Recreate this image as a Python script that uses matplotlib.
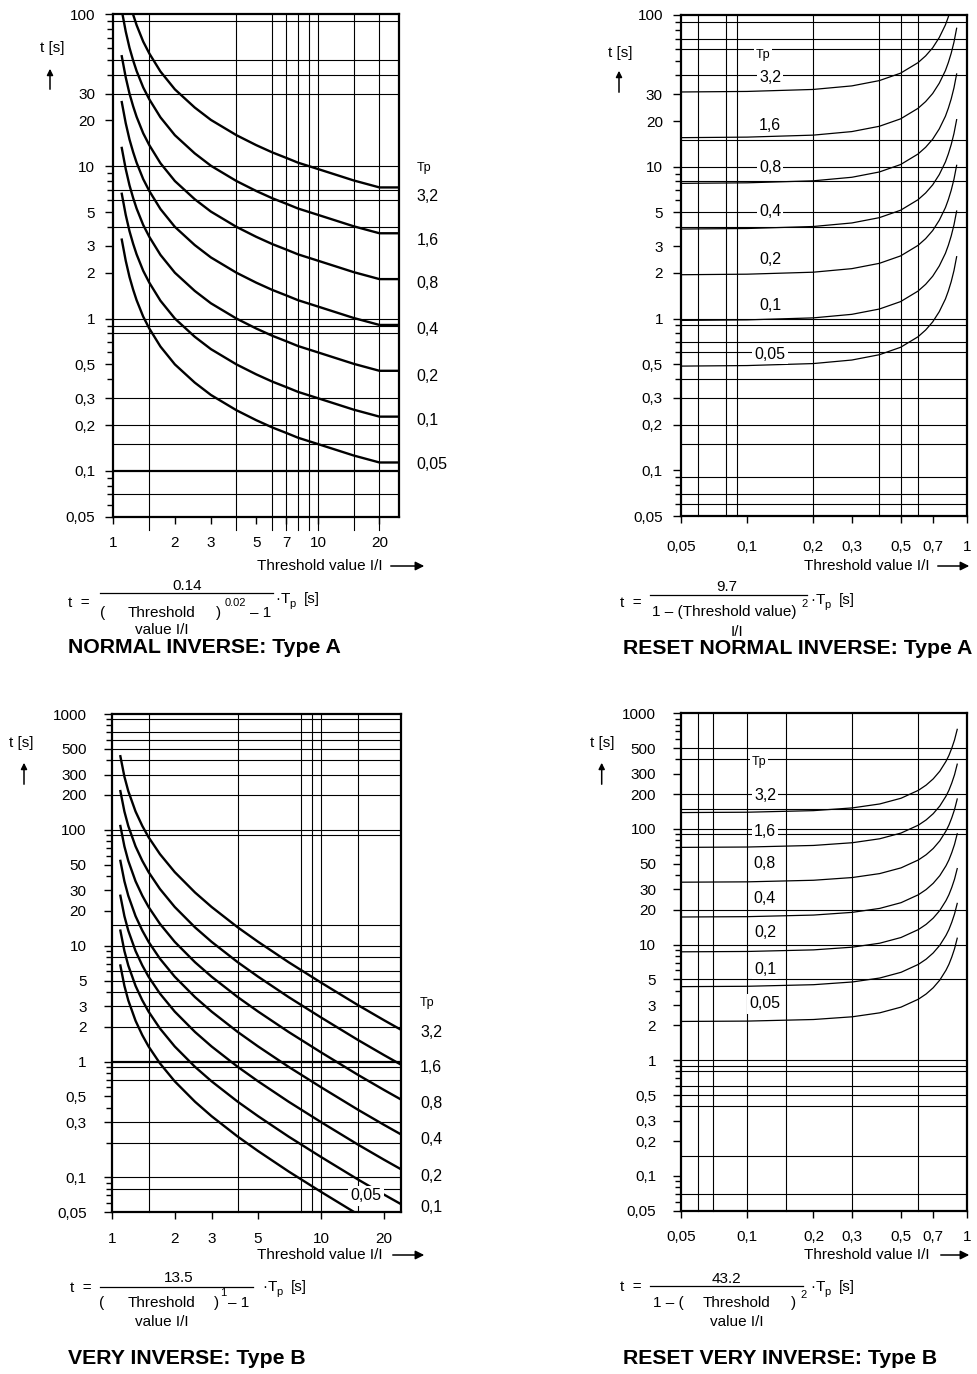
import numpy as np
import matplotlib
matplotlib.use("Agg")
import matplotlib.pyplot as plt
from matplotlib.lines import Line2D
from matplotlib.patches import FancyArrowPatch
from matplotlib.ticker import LogLocator, NullFormatter, NullLocator

plt.rcParams["font.family"] = ["Liberation Sans", "DejaVu Sans"]

W, H = 977, 1374

# time multiplier of each curve
tp_values = [3.2, 1.6, 0.8, 0.4, 0.2, 0.1, 0.05]

# NORMAL INVERSE, Type A: time for Tp = 1 s
ni_x = [1.1, 1.15, 1.2, 1.25, 1.3, 1.4, 1.5, 1.7, 2, 2.5, 3, 4, 5, 6, 7, 8, 10, 15, 20, 25]
ni_t = [66, 48, 37.5, 31, 26.4, 20.6, 17.2, 13.1, 10.0, 7.6, 6.3, 5.0, 4.3, 3.85, 3.55, 3.3,
        3.0, 2.52, 2.27, 2.27]

# VERY INVERSE, Type B
vi_x = [1.1, 1.15, 1.2, 1.3, 1.4, 1.5, 1.7, 2, 2.5, 3, 4, 5, 7, 10, 15, 20, 24]
vi_t = [135, 90, 67.5, 45, 33.8, 27, 19.3, 13.5, 9.0, 6.75, 4.5, 3.38, 2.25, 1.5, 0.96, 0.71, 0.59]

# RESET curves, Type A and Type B
rs_x = [0.05, 0.1, 0.2, 0.3, 0.4, 0.5, 0.6, 0.65, 0.7, 0.75, 0.8, 0.825, 0.85, 0.875, 0.9]
rn_t = [9.72, 9.8, 10.1, 10.66, 11.55, 12.93, 15.16, 16.8, 19.0, 22.2, 26.9, 30.4, 35.0, 41.4, 51.1]
rv_t = [43.3, 43.6, 45.0, 47.5, 51.4, 57.6, 67.5, 74.8, 84.7, 98.7, 120, 135, 156, 184, 227]

# tick labels
ticks_inv_a = [1, 2, 3, 5, 7, 10, 20]
ticks_inv_b = [1, 2, 3, 5, 10, 20]
ticks_reset = [0.05, 0.1, 0.2, 0.3, 0.5, 0.7, 1]
yt_100 = [0.05, 0.1, 0.2, 0.3, 0.5, 1, 2, 3, 5, 10, 20, 30, 100]
yt_1000_b = [0.05, 0.1, 0.3, 0.5, 1, 2, 3, 5, 10, 20, 30, 50, 100, 200, 300, 500, 1000]
yt_1000_r = [0.05, 0.1, 0.2, 0.3, 0.5, 1, 2, 3, 5, 10, 20, 30, 50, 100, 200, 300, 500, 1000]

# grid lines of each sheet
hg_a = [90, 50, 40, 30, 10, 7, 6, 4, 1, 0.9, 0.8, 0.3, 0.2, 0.15, 0.07]
vg_a = [1.5, 4, 6, 7, 8, 9, 10, 15, 20]
hg_ra = [90, 70, 60, 40, 15, 10, 8, 5, 4, 1, 0.9, 0.7, 0.6, 0.4, 0.3, 0.2, 0.15, 0.09, 0.07, 0.06]
vg_ra = [0.06, 0.08, 0.09, 0.2, 0.4, 0.5, 0.6]
hg_b = [900, 700, 600, 500, 400, 300, 200, 100, 90, 15, 10, 8, 6, 5, 4, 3, 2, 0.9, 0.7,
        0.3, 0.2, 0.1, 0.08]
vg_b = [1.5, 4, 8, 9, 10, 15]
hg_rb = [500, 400, 200, 150, 100, 90, 20, 10, 5, 1, 0.9, 0.8, 0.6, 0.5, 0.4, 0.15, 0.07]
vg_rb = [0.06, 0.07, 0.1, 0.15, 0.3, 0.6]


def lab(v):
    return f"{v:g}".replace(".", ",")


def fx(x):
    return x / W


def fy(y):
    return 1 - y / H


def box(l, t, r, b):
    return [l / W, 1 - b / H, (r - l) / W, (b - t) / H]


fig = plt.figure(figsize=(W / 100, H / 100), dpi=100)


def sheet(rect, xlim, ylim, xt, yt, hg, vg, heavy=None, vext=0.0, ypad=8, xpad=6):
    ax = fig.add_axes(box(*rect))
    ax.set_xscale("log")
    ax.set_yscale("log")
    ax.set_xlim(*xlim)
    ax.set_ylim(*ylim)
    for v in hg:
        ax.axhline(v, color="k", lw=0.8, zorder=1)
    for v in vg:
        ax.axvline(v, ymin=-vext, ymax=1, color="k", lw=0.8, zorder=1, clip_on=False)
    if heavy:
        ax.axhline(heavy, color="k", lw=1.6, zorder=1)
    ax.set_xticks(xt)
    ax.set_xticklabels([lab(v) for v in xt])
    ax.set_yticks(yt)
    ax.set_yticklabels([lab(v) for v in yt])
    ax.xaxis.set_minor_locator(NullLocator())
    ax.yaxis.set_minor_locator(LogLocator(base=10, subs=np.arange(2, 10), numticks=20))
    ax.yaxis.set_minor_formatter(NullFormatter())
    ax.tick_params(axis="y", which="major", length=6, width=1, pad=ypad, labelsize=11)
    ax.tick_params(axis="y", which="minor", length=4, width=1)
    ax.tick_params(axis="x", which="major", length=5, width=1, pad=xpad, labelsize=11)
    for s in ax.spines.values():
        s.set_linewidth(1.6)
    return ax


# ---- NORMAL INVERSE ----
ax1 = sheet((113.3, 14, 399.3, 516.7), (1, 25), (0.05, 100), ticks_inv_a, yt_100,
            hg_a, vg_a, heavy=0.1, vext=0.026, ypad=7, xpad=9)
for tp in tp_values:
    ax1.plot(ni_x, [t * tp for t in ni_t], color="k", lw=1.7, zorder=2)

# ---- RESET NORMAL INVERSE ----
ax2 = sheet((681, 15, 966.7, 516), (0.05, 1), (0.05, 100), ticks_reset, yt_100,
            hg_ra, vg_ra, ypad=7, xpad=12)
for tp in tp_values:
    ax2.plot(rs_x, [t * tp for t in rn_t], color="k", lw=0.9, zorder=2)

# ---- VERY INVERSE ----
ax3 = sheet((111.7, 714, 400.7, 1212.3), (1, 24), (0.05, 1000), ticks_inv_b, yt_1000_b,
            hg_b, vg_b, heavy=1, ypad=12, xpad=9)
for tp in tp_values:
    ax3.plot(vi_x, [t * tp for t in vi_t], color="k", lw=1.7, zorder=2)

# ---- RESET VERY INVERSE ----
ax4 = sheet((681, 713.3, 967.3, 1210.7), (0.05, 1), (0.05, 1000), ticks_reset, yt_1000_r,
            hg_rb, vg_rb, ypad=12, xpad=9)
for tp in tp_values:
    ax4.plot(rs_x, [t * tp for t in rv_t], color="k", lw=0.9, zorder=2)


def txt(x, y, s, size=11, ha="left", va="center", **kw):
    fig.text(fx(x), fy(y), s, fontsize=size, ha=ha, va=va, **kw)


white = dict(fc="white", ec="none", pad=1.5)

# Tp labels beside the curves
tp_y_a = [196.7, 240.7, 283.3, 330, 376, 421, 465]
txt(417, 168, "Tp", size=9)
for tp, y in zip(tp_values, tp_y_a):
    txt(416.7, y, lab(tp), size=11.5)

tp_y_b = [1032.3, 1067.3, 1104, 1139, 1176.7, 1207.3]
txt(420, 1002.7, "Tp", size=9)
for tp, y in zip(tp_values[:-1], tp_y_b):
    txt(420, y, lab(tp), size=11.5)
txt(366, 1196, lab(tp_values[-1]), size=11.5, ha="center", bbox=white)

tp_y_ra = [78, 125, 167, 212, 260, 306, 354]
txt(763, 55, "Tp", size=9, ha="center", bbox=white)
for tp, y in zip(tp_values, tp_y_ra):
    txt(770, y, lab(tp), size=11.5, ha="center", bbox=white)

tp_y_rb = [795, 831.7, 863.3, 898.3, 932.7, 969.3, 1004]
txt(759, 761.7, "Tp", size=9, ha="center", bbox=white)
for tp, y in zip(tp_values, tp_y_rb):
    txt(765, y, lab(tp), size=11.5, ha="center", bbox=white)


def arrow(x0, y0, x1, y1, scale=12):
    fig.add_artist(FancyArrowPatch((fx(x0), fy(y0)), (fx(x1), fy(y1)),
                                   transform=fig.transFigure, arrowstyle="-|>",
                                   mutation_scale=scale, lw=1.1, color="k"))


def hline(x0, x1, y):
    fig.add_artist(Line2D([fx(x0), fx(x1)], [fy(y), fy(y)], transform=fig.transFigure,
                          color="k", lw=0.9))


def tp_factor(x, y):
    # "· Tp  [s]" after the fraction bar
    txt(x, y, "·")
    txt(x + 6, y, "T")
    txt(x + 14, y + 4.5, "p", size=8)
    txt(x + 29, y, "[s]")


# axis titles
for x, y, ax_x, y0, y1 in [(40, 48, 50, 92, 66), (608, 53, 619, 95, 68),
                           (9, 743, 24, 787, 760), (590, 743, 601.7, 787, 760)]:
    txt(x, y, "t [s]", size=11)
    arrow(ax_x, y0, ax_x, y1, scale=9)

for x, y, a0, a1 in [(383, 566, 388, 427), (930, 566, 935, 972),
                     (383, 1255, 390, 427), (930, 1255, 938, 972)]:
    txt(x, y, "Threshold value I/I", size=11, ha="right")
    arrow(a0, y, a1, y, scale=13)

# formula, NORMAL INVERSE
txt(68, 603, "t  =")
hline(100, 273, 592.7)
txt(186.7, 586, "0.14", ha="center")
txt(103, 612.7, "(", ha="center")
txt(161.7, 612.7, "Threshold", ha="center")
txt(218, 612.7, ")", ha="center")
txt(225, 603, "0.02", size=8)
txt(250, 613, "– 1")
txt(161.7, 630, "value I/I", ha="center")
tp_factor(275, 599.3)
txt(68, 647.3, "NORMAL INVERSE: Type A", size=15.3, weight="bold")

# formula, RESET NORMAL INVERSE
txt(620, 603, "t  =")
hline(650, 806.7, 595)
txt(726.7, 586.7, "9.7", ha="center")
txt(651.7, 611.7, "1 – (Threshold value)")
txt(801, 604, "2", size=8)
txt(736.7, 631.7, "I/I", ha="center")
tp_factor(810, 600)
txt(623, 648.3, "RESET NORMAL INVERSE: Type A", size=15.3, weight="bold")

# formula, VERY INVERSE
txt(70, 1288.3, "t  =")
hline(100, 253.3, 1287.3)
txt(178.3, 1278.3, "13.5", ha="center")
txt(101.7, 1303.3, "(", ha="center")
txt(161.7, 1303.3, "Threshold", ha="center")
txt(216.7, 1303.3, ")", ha="center")
txt(220.5, 1293.3, "1", size=8)
txt(228, 1303.3, "– 1")
txt(161.7, 1321.7, "value I/I", ha="center")
tp_factor(262, 1287.3)
txt(68.3, 1358.3, "VERY INVERSE: Type B", size=15.3, weight="bold")

# formula, RESET VERY INVERSE
txt(620, 1287.3, "t  =")
hline(650, 803.3, 1286)
txt(726.7, 1279.3, "43.2", ha="center")
txt(653.3, 1303.3, "1 – (")
txt(736.7, 1303.3, "Threshold", ha="center")
txt(793.3, 1303.3, ")", ha="center")
txt(800, 1295, "2", size=8)
txt(736.7, 1321.7, "value I/I", ha="center")
tp_factor(810, 1287.3)
txt(623.3, 1358.3, "RESET VERY INVERSE: Type B", size=15.3, weight="bold")

fig.savefig("out.png", dpi=100)
